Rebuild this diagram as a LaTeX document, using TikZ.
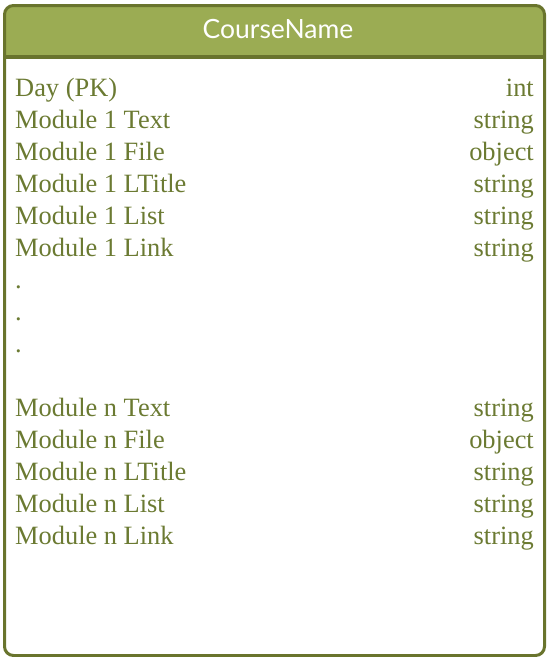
\documentclass[tikz,border=0pt]{standalone}
\usepackage{fontspec}
\setmainfont{Liberation Serif}
\newfontfamily\headfont{Lato}
\definecolor{edge}{HTML}{69742D}
\definecolor{headfill}{HTML}{9BAC53}
\definecolor{fieldtext}{HTML}{6B7A32}
\begin{document}
\begin{tikzpicture}[x=1pt,y=-1pt,
  field/.style={anchor=base west,inner sep=0pt,text=fieldtext,font=\fontsize{26.4}{30}\selectfont},
  ftype/.style={anchor=base east,inner sep=0pt,text=fieldtext,font=\fontsize{26.4}{30}\selectfont},
  title/.style={anchor=base,inner sep=0pt,text=white,font=\headfont\fontsize{26.5}{30}\selectfont}]
\useasboundingbox (0,0) rectangle (549,657);
% header band
\fill[headfill,rounded corners=9pt] (4.5,5.5) rectangle (544.5,57);
\fill[headfill] (4.5,30) rectangle (544.5,57);
% outer frame and header separator
\draw[edge,line width=3pt,rounded corners=9pt] (4.5,5.5) rectangle (544.5,655.5);
\draw[edge,line width=3.5pt] (4.5,57) -- (544.5,57);
\node[title] (t) at (278,38) {CourseName};
% field rows
\foreach \n/\lab/\typ [count=\i] in {
  r1/Day (PK)/int,
  r2/Module 1 Text/string,
  r3/Module 1 File/object,
  r4/Module 1 LTitle/string,
  r5/Module 1 List/string,
  r6/Module 1 Link/string}{
  \node[field] (\n l) at (15,{96+32*(\i-1)}) {\lab};
  \node[ftype] (\n t) at (534,{96+32*(\i-1)}) {\typ};
}
\node[field] (d1) at (15,288) {.};
\node[field] (d2) at (15,320) {.};
\node[field] (d3) at (15,352) {.};
\foreach \n/\lab/\typ [count=\i] in {
  s1/Module n Text/string,
  s2/Module n File/object,
  s3/Module n LTitle/string,
  s4/Module n List/string,
  s5/Module n Link/string}{
  \node[field] (\n l) at (15,{416+32*(\i-1)}) {\lab};
  \node[ftype] (\n t) at (534,{416+32*(\i-1)}) {\typ};
}
\end{tikzpicture}
\end{document}
